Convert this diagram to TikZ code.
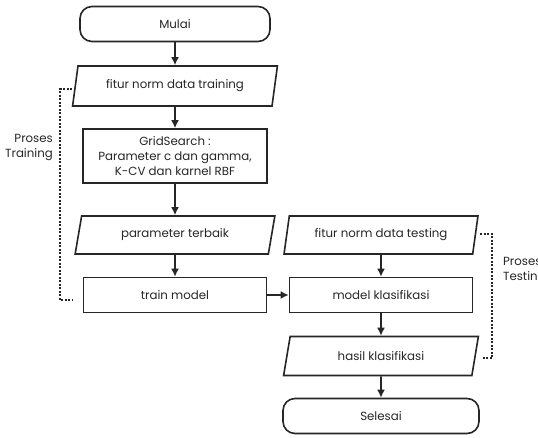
\documentclass[tikz,border=0pt]{standalone}
\usepackage{fontspec}
\setmainfont{Poppins}
\usetikzlibrary{shapes.geometric, arrows.meta}
\definecolor{linegray}{HTML}{262626}

\begin{document}
\begin{tikzpicture}[x=1pt, y=-1pt, color=linegray, line width=1.6pt,
    font=\fontsize{11.8}{15}\selectfont,
    terminal/.style={draw, rounded corners=12pt, minimum width=190, minimum height=35},
    io/.style={draw, trapezium, trapezium left angle=78, trapezium right angle=102,
      trapezium stretches=true, minimum width=200, minimum height=38},
    process/.style={draw, minimum width=183, minimum height=35, align=center},
    bracket/.style={line width=1.5pt, dash pattern=on 2pt off 1.5pt},
    flow/.style={-{Latex[length=8pt, width=8pt]}}]
			\useasboundingbox (0,0) rectangle (538,437);
			% training side
			\node[terminal] (mulai) at (175,24) {Mulai};
			\node[io, minimum width=205, minimum height=40] (fiturtrain) at (175,86) {fitur norm data training};
			\node[process, minimum width=184, minimum height=54, inner sep=2pt] (grid) at (175,156) {GridSearch :\\Parameter c dan gamma,\\K-CV dan karnel RBF};
			\node[io] (param) at (175,235) {parameter terbaik};
			\node[process] (train) at (175,295) {train model};
			% testing side
			\node[io, minimum width=194] (fiturtest) at (381,235) {fitur norm data testing};
			\node[process] (model) at (381,295) {model klasifikasi};
			\node[io, minimum width=195, minimum height=39] (hasil) at (381,356) {hasil klasifikasi};
			\node[terminal, minimum width=196] (selesai) at (381,416) {Selesai};
			\draw[flow] (mulai) -- (fiturtrain);
			\draw[flow] (fiturtrain) -- (grid);
			\draw[flow] (grid) -- (param);
			\draw[flow] (param) -- (train);
			\draw[flow] (train) -- (model);
			\draw[flow] (fiturtest) -- (model);
			\draw[flow] (model) -- (hasil);
			\draw[flow] (hasil) -- (selesai);
			% brackets
			\coordinate (trtop) at (72,89);
			\coordinate (trbot) at (72,300);
			\coordinate (tetop) at (480,234);
			\coordinate (tebot) at (482,358);
			\draw[bracket] (trtop) -- (60,89) |- (trbot);
			\draw[bracket] (tetop) -- (492,234) |- (tebot);
			\node[align=right, anchor=east] (trlabel) at (57,147) {Proses\\Training};
			\node[align=left, anchor=west] (telabel) at (499,270) {Proses\\Testing};
		\end{tikzpicture}
\end{document}
